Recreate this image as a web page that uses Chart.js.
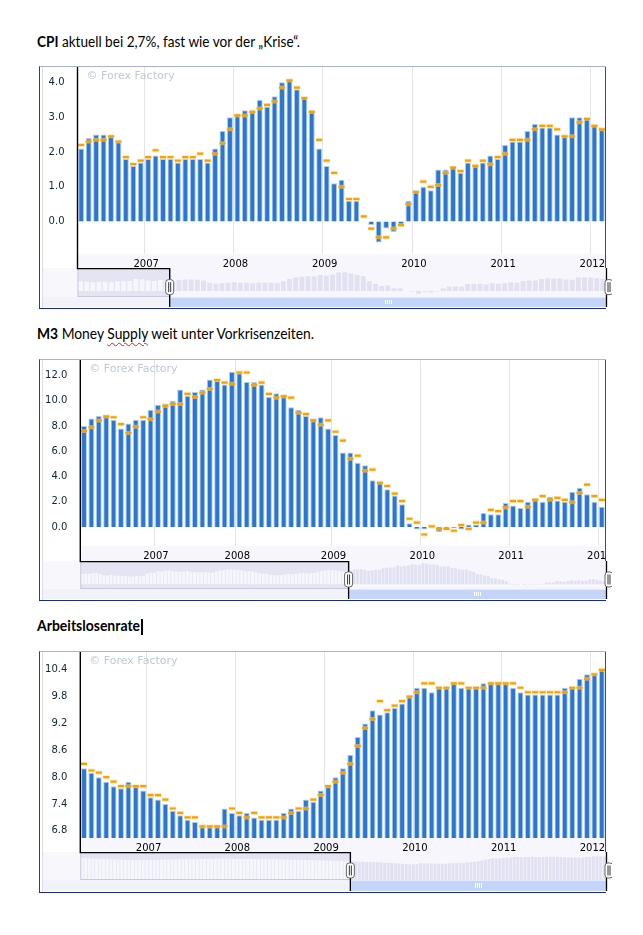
<!DOCTYPE html>
<html>
<head>
<meta charset="utf-8">
<script src="https://cdn.jsdelivr.net/npm/chart.js@4.4.1/dist/chart.umd.min.js"></script>
<style>
html, body { margin: 0; padding: 0; background: #fff; }
body { width: 643px; height: 935px; position: relative; overflow: hidden; }
.h { position: absolute; left: 37px; font-family: Lato, sans-serif; font-size: 14.5px; line-height: 18px; white-space: nowrap; color: #000; transform-origin: 0 0; }
.sp { text-decoration: underline wavy #e02020; text-decoration-thickness: 1px; text-underline-offset: 3px; }
.frame { position: absolute; left: 39px; width: 567px; box-sizing: border-box; border-top: 1px solid #aab2dc; border-left: 1px solid #2b3a96; border-bottom: 1px solid #1b2a8f; pointer-events: none; z-index: 2; }
.frame:before { content: ''; position: absolute; left: 2px; top: 0; bottom: 0; width: 1px; background: #dadcef; }
.cursor { position: absolute; left: 141px; top: 619px; width: 2px; height: 16px; background: #000; }
canvas { position: absolute; }
</style>
</head>
<body>

<div class="h" id="h1" data-w="263" style="top:33px"><b>CPI</b> aktuell bei 2,7%, fast wie vor der „Krise“.</div>
<div class="h" id="h2" data-w="277" style="top:325px"><b>M3</b> Money <span class="sp">Supply</span> weit unter Vorkrisenzeiten.</div>
<div class="h" id="h3" data-w="103" style="top:617px"><b>Arbeitslosenrate</b></div>
<div class="cursor"></div>

<div class="frame" style="top:66px;height:243px"></div>
<div class="frame" style="top:359px;height:242px"></div>
<div class="frame" style="top:651px;height:242px"></div>

<canvas id="cpi" width="566" height="201" style="left:40px;top:67px"></canvas>
<canvas id="cpiNav" width="572" height="39" style="left:40px;top:268px"></canvas>
<canvas id="m3" width="566" height="201" style="left:40px;top:360px"></canvas>
<canvas id="m3Nav" width="572" height="38" style="left:40px;top:561px"></canvas>
<canvas id="ue" width="566" height="200" style="left:40px;top:652px"></canvas>
<canvas id="ueNav" width="572" height="39" style="left:40px;top:852px"></canvas>

<script>
// year labels on the x axis
const yearTicks = ['2007', '2008', '2009', '2010', '2011', '2012'];

// CPI (Verbraucherpreise, % yoy)
const cpiYearStart = [9, 21, 33, 45, 57, 69];
const cpiTicks = [0, 1, 2, 3, 4];
const cpiActual = [
  2.1, 2.4, 2.5, 2.5, 2.45, 2.3, 1.8, 1.6, 1.7,
  1.8, 1.9, 1.8, 1.8, 1.7, 1.8, 1.8, 1.8, 1.7, 2.1, 2.6, 3.0,
  3.1, 3.2, 3.2, 3.5, 3.3, 3.6, 4.0, 4.1, 3.8, 3.55, 3.2, 2.1,
  1.6, 1.1, 1.2, 0.6, 0.6, 0.0, -0.1, -0.6, -0.2, -0.3, -0.1, 0.6,
  0.9, 1.0, 0.9, 1.5, 1.5, 1.6, 1.4, 1.7, 1.6, 1.7, 1.9, 1.8,
  2.2, 2.3, 2.3, 2.6, 2.8, 2.7, 2.7, 2.5, 2.45, 3.0, 3.0, 2.95,
  2.75, 2.65
];
const cpiForecast = [
  2.2, 2.3, 2.35, 2.35, 2.45, 2.3, 1.85, 1.65, 1.75,
  1.85, 2.05, 1.85, 1.85, 1.75, 1.85, 1.85, 1.95, 1.75, 1.95, 2.25, 2.65,
  3.05, 3.05, 3.15, 3.25, 3.35, 3.45, 3.85, 4.05, 3.85, 3.55, 3.15, 2.35,
  1.75, 1.4, 1.0, 0.65, 0.65, 0.15, -0.2, -0.45, -0.45, -0.2, -0.1, 0.5,
  0.85, 1.15, 1.0, 1.05, 1.4, 1.55, 1.45, 1.75, 1.6, 1.75, 1.65, 1.85,
  1.95, 2.35, 2.35, 2.35, 2.65, 2.75, 2.75, 2.65, 2.45, 2.45, 2.85, 2.95,
  2.75, 2.65
];
// older history, only shown in the navigator
const cpiEarly = [2.1, 2.0, 1.9, 2.0, 2.0, 1.9, 2.1, 2.1, 2.2, 2.6, 2.5, 2.3, 2.2, 2.4, 2.3];

// M3 money supply (% yoy)
const m3YearStart = [10, 21, 34, 46, 58, 70];
const m3Ticks = [0, 2, 4, 6, 8, 10, 12];
const m3Actual = [
  8.0, 8.6, 8.8, 8.9, 8.5, 7.8, 8.2, 8.5, 8.5, 9.3,
  9.7, 9.8, 10.0, 10.9, 10.4, 10.7, 10.9, 11.7, 11.6, 11.3, 12.3,
  12.2, 11.5, 11.5, 11.3, 10.3, 10.6, 10.5, 9.5, 9.3, 8.8, 8.6, 8.7, 7.8,
  7.3, 5.9, 5.9, 5.1, 4.9, 3.7, 3.6, 3.0, 2.5, 1.8, 0.3, -0.2,
  -0.2, 0.05, -0.4, -0.15, -0.1, -0.2, 0.2, 0.2, 1.1, 1.0, 1.0, 1.9,
  1.7, 1.5, 2.0, 2.3, 2.0, 2.4, 2.1, 2.0, 2.8, 3.1, 2.6, 2.0,
  1.6
];
const m3Forecast = [
  7.6, 7.9, 8.45, 8.75, 8.7, 8.15, 7.45, 7.95, 8.7, 8.55,
  9.15, 9.6, 9.75, 9.75, 10.55, 10.3, 10.65, 10.95, 11.65, 11.45, 11.35,
  12.25, 12.25, 11.25, 11.45, 10.55, 10.25, 10.35, 10.25, 9.05, 8.95, 8.45, 8.1, 8.45,
  7.55, 6.85, 5.4, 5.65, 4.45, 4.55, 3.5, 3.25, 2.65, 2.05, 0.65, 0.35,
  -0.6, 0.05, -0.15, -0.15, -0.3, 0.15, -0.15, 0.35, 0.35, 1.35, 1.25, 1.55,
  2.05, 2.05, 1.6, 2.15, 2.45, 2.15, 2.3, 2.15, 1.95, 2.7, 3.35, 2.45,
  2.15
];
const m3Early = [
  6.0, 6.1, 6.2, 6.5, 6.6, 6.0, 5.3, 5.2, 5.5, 5.0, 5.0, 5.0, 4.9,
  4.5, 4.6, 4.8, 4.7, 5.0, 6.2, 6.7, 6.8, 7.6, 7.4, 7.9, 8.0,
  7.8, 7.5, 7.3, 7.4, 7.7, 7.2, 7.1, 7.1, 7.1, 7.0, 6.9, 6.8,
  7.5, 8.1, 8.0, 8.7, 8.6, 8.5, 8.5, 8.2, 7.4, 7.7, 7.4, 7.1,
  6.4, 6.2, 6.2, 5.4, 5.3, 5.4, 5.4, 5.9, 6.0, 5.9, 6.1, 6.4,
  6.8, 6.4, 6.5, 6.6, 7.3, 7.6, 8.0, 8.3, 8.4, 8.0, 7.6, 7.3,
  7.6
];

// Arbeitslosenrate (%)
const ueYearStart = [9, 21, 33, 45, 57, 69];
const ueTicks = [6.8, 7.4, 8.0, 8.6, 9.2, 9.8, 10.4];
const ueActual = [
  8.2, 8.1, 8.0, 7.9, 7.8, 7.75, 7.9, 7.8, 7.7,
  7.55, 7.5, 7.4, 7.25, 7.15, 7.05, 7.0, 6.9, 6.9, 6.9, 7.3, 7.2,
  7.15, 7.2, 7.1, 7.05, 7.05, 7.05, 7.2, 7.3, 7.25, 7.5, 7.45, 7.7,
  7.8, 8.0, 8.2, 8.5, 8.9, 9.2, 9.5, 9.4, 9.45, 9.55, 9.65, 9.8,
  10.0, 10.0, 9.9, 10.0, 10.0, 10.1, 10.0, 10.0, 10.0, 10.1, 10.1, 10.1,
  10.1, 10.0, 9.9, 9.85, 9.85, 9.85, 9.85, 9.85, 10.0, 10.0, 10.2, 10.3,
  10.3, 10.4
];
const ueForecast = [
  8.3, 8.15, 8.1, 8.0, 7.9, 7.8, 7.8, 7.8, 7.8,
  7.6, 7.6, 7.5, 7.3, 7.2, 7.1, 7.1, 6.9, 6.9, 6.9, 6.9, 7.3,
  7.2, 7.1, 7.2, 7.1, 7.1, 7.1, 7.1, 7.2, 7.3, 7.3, 7.5, 7.6,
  7.8, 7.9, 8.1, 8.3, 8.7, 9.1, 9.3, 9.7, 9.5, 9.6, 9.7, 9.8,
  9.9, 10.1, 10.1, 10.0, 10.0, 10.1, 10.1, 10.0, 10.0, 10.0, 10.1, 10.1,
  10.1, 10.1, 10.0, 9.9, 9.9, 9.9, 9.9, 9.9, 9.9, 10.0, 10.0, 10.2,
  10.3, 10.4
];
const ueEarly = [
  9.6, 9.5, 9.5, 9.4, 9.3, 9.2, 9.2, 9.1, 9.0, 9.0, 8.9, 8.9,
  8.8, 8.8, 8.7, 8.7, 8.7, 8.6, 8.6, 8.7, 8.7, 8.8, 8.8, 8.9,
  8.9, 8.9, 9.0, 9.0, 9.0, 9.1, 9.1, 9.1, 9.2, 9.2, 9.2, 9.2,
  9.2, 9.3, 9.3, 9.3, 9.3, 9.3, 9.2, 9.2, 9.2, 9.2, 9.2, 9.2,
  9.1, 9.1, 9.1, 9.0, 9.0, 9.0, 9.0, 8.9, 8.9, 8.9, 8.8, 8.8,
  8.8, 8.8, 8.7, 8.7, 8.7, 8.6, 8.6, 8.6, 8.5, 8.5, 8.4, 8.4,
  8.4, 8.3, 8.3
];

Chart.defaults.font.family = '"DejaVu Sans", Verdana, sans-serif';
Chart.defaults.font.size = 10;

// fit the headings to the width they have in the scanned document
document.querySelectorAll('.h').forEach(el => {
  const w = el.getBoundingClientRect().width;
  el.style.transform = 'scaleX(' + (el.dataset.w / w) + ')';
});

const mainDeco = {
  id: 'mainDeco',
  beforeDraw(chart) {
    const { ctx, chartArea: a } = chart;
    ctx.save();
    ctx.fillStyle = '#f6f6fc';
    ctx.fillRect(a.left, a.bottom, a.right - a.left, chart.height - a.bottom);
    ctx.restore();
  },
  beforeDatasetsDraw(chart) {
    const { ctx, chartArea: a } = chart;
    ctx.save();
    ctx.font = '11px "DejaVu Sans"';
    ctx.fillStyle = '#bec8dc';
    ctx.textBaseline = 'middle';
    ctx.fillText('\u00a9 Forex Factory', a.left + 9, a.top + 9);
    ctx.restore();
  },
  afterDraw(chart) {
    const { ctx, chartArea: a } = chart;
    ctx.save();
    ctx.strokeStyle = '#000';
    ctx.lineWidth = 1.4;
    ctx.beginPath();
    ctx.moveTo(a.left, a.top);
    ctx.lineTo(a.left, chart.height);
    ctx.moveTo(a.right + 0.5, 0);
    ctx.lineTo(a.right + 0.5, chart.height);
    ctx.stroke();
    ctx.restore();
  }
};

function handle(ctx, x, cy) {
  ctx.fillStyle = '#fff';
  ctx.strokeStyle = '#666';
  ctx.lineWidth = 1;
  ctx.beginPath();
  ctx.roundRect(x - 4, cy - 7.5, 8, 15, 3);
  ctx.fill();
  ctx.stroke();
  ctx.strokeStyle = '#333';
  ctx.beginPath();
  ctx.moveTo(x - 1, cy - 5); ctx.lineTo(x - 1, cy + 5);
  ctx.moveTo(x + 1, cy - 5); ctx.lineTo(x + 1, cy + 5);
  ctx.stroke();
}

const navDeco = {
  id: 'navDeco',
  beforeDatasetsDraw(chart, args, opts) {
    const { ctx, chartArea: a } = chart;
    const slot = (a.right - a.left) / chart.data.labels.length;
    const mx = a.left + opts.early * slot;
    ctx.save();
    ctx.fillStyle = '#f7f7fc';
    ctx.fillRect(2, a.top, a.left - 2, a.bottom - a.top);
    ctx.fillStyle = '#f6f6fc';
    ctx.fillRect(a.left, a.top, a.right - a.left, a.bottom - a.top);
    ctx.fillStyle = '#e4e4f2';
    ctx.fillRect(a.left, a.top, mx - a.left, a.bottom - a.top);
    ctx.restore();
  },
  afterDatasetsDraw(chart, args, opts) {
    const { ctx, chartArea: a } = chart;
    const slot = (a.right - a.left) / chart.data.labels.length;
    const mx = a.left + opts.early * slot;
    const h = chart.height;
    ctx.save();
    // mask edges
    ctx.strokeStyle = '#c9c9de';
    ctx.lineWidth = 1;
    ctx.strokeRect(a.left + 0.5, a.top, mx - a.left, a.bottom - a.top - 0.5);
    // scrollbar
    ctx.fillStyle = '#f2f2f9';
    ctx.fillRect(2, a.bottom, mx - 2, h - a.bottom);
    ctx.fillStyle = '#c5d5f9';
    ctx.fillRect(mx, a.bottom + 0.5, a.right - mx, h - a.bottom - 0.5);
    const cx = (mx + a.right) / 2;
    ctx.strokeStyle = '#ffffff';
    ctx.beginPath();
    for (let i = -3; i <= 3; i += 2) {
      ctx.moveTo(Math.round(cx + i) + 0.5, a.bottom + 3);
      ctx.lineTo(Math.round(cx + i) + 0.5, h - 3);
    }
    ctx.stroke();
    // black outline of the hidden range
    ctx.strokeStyle = '#000';
    ctx.lineWidth = 1.3;
    ctx.beginPath();
    ctx.moveTo(a.left - 0.7, a.top + 0.5);
    ctx.lineTo(mx, a.top + 0.5);
    ctx.moveTo(mx, a.top);
    ctx.lineTo(mx, h);
    ctx.moveTo(a.right + 0.5, 0);
    ctx.lineTo(a.right + 0.5, h);
    ctx.stroke();
    const cy = a.top + (a.bottom - a.top) * 0.66;
    handle(ctx, mx, cy);
    handle(ctx, a.right + 3, cy);
    ctx.restore();
  }
};

function drawPanel(p) {
  const labels = p.actual.map((v, i) => {
    const j = p.yearStart.indexOf(i);
    return j >= 0 ? yearTicks[j] : '';
  });
  const bars = {
    data: p.actual,
    backgroundColor: '#2b77ce',
    borderColor: 'rgba(172,200,240,0.95)',
    borderWidth: 1,
    barPercentage: 0.8,
    categoryPercentage: 1,
    clip: 0,
    order: 2
  };
  if (p.base !== undefined) bars.base = p.base;

  new Chart(document.getElementById(p.id), {
    type: 'bar',
    data: {
      labels: labels,
      datasets: [{
        // forecast dash
        type: 'line',
        data: p.forecast,
        showLine: false,
        pointStyle: 'line',
        pointRadius: 3,
        pointBorderWidth: 2.2,
        pointBorderColor: '#f4a300',
        order: 0
      }, {
        // pale halo round the dash
        type: 'line',
        data: p.forecast,
        showLine: false,
        pointStyle: 'line',
        pointRadius: 3.5,
        pointBorderWidth: 4,
        pointBorderColor: 'rgba(255,212,130,0.55)',
        order: 1
      }, bars]
    },
    options: {
      responsive: false,
      animation: false,
      layout: { autoPadding: false, padding: { top: 0, right: 0.5, bottom: 0, left: 0 } },
      plugins: { legend: { display: false }, tooltip: { enabled: false } },
      scales: {
        x: {
          grid: {
            offset: true,
            drawTicks: false,
            lineWidth: 1,
            color: c => (c.tick && c.tick.label) ? '#e4e4ea' : 'rgba(0,0,0,0)'
          },
          border: { display: false },
          ticks: { autoSkip: false, maxRotation: 0, padding: 4, labelOffset: -2, color: '#000' },
          afterFit: s => { s.height = p.axisH; s.paddingLeft = 0; s.paddingRight = 0; }
        },
        y: {
          min: p.min,
          max: p.max,
          grid: { display: false },
          border: { display: false },
          ticks: { padding: 5, color: '#0e2538', callback: v => v.toFixed(1) },
          afterBuildTicks: s => { s.ticks = p.ticks.map(v => ({ value: v })); },
          afterFit: s => { s.width = p.yW; s.paddingTop = 0; s.paddingBottom = 0; }
        }
      }
    },
    plugins: [mainDeco]
  });

  const all = p.early.concat(p.actual);
  const n0 = p.early.length;
  new Chart(document.getElementById(p.id + 'Nav'), {
    type: 'bar',
    data: {
      labels: all.map((v, i) => i),
      datasets: [{
        data: all,
        backgroundColor: c => c.dataIndex < n0 ? '#f6f6fd' : '#e1e1f2',
        borderWidth: 0,
        barPercentage: 0.8,
        categoryPercentage: 1
      }]
    },
    options: {
      responsive: false,
      animation: false,
      layout: { autoPadding: false, padding: { left: p.yW, right: 6, top: 0, bottom: p.navPadB } },
      plugins: { legend: { display: false }, tooltip: { enabled: false }, navDeco: { early: n0 } },
      scales: {
        x: { display: false },
        y: { display: false, min: p.navMin, max: p.navMax }
      }
    },
    plugins: [navDeco]
  });
}

drawPanel({ id: 'cpi', actual: cpiActual, forecast: cpiForecast, early: cpiEarly, yearStart: cpiYearStart, ticks: cpiTicks,
  min: -0.93, max: 4.44, yW: 37.5, axisH: 14, navMin: -1.3, navMax: 5.0, navPadB: 10 });
drawPanel({ id: 'm3', actual: m3Actual, forecast: m3Forecast, early: m3Early, yearStart: m3YearStart, ticks: m3Ticks,
  min: -1.51, max: 13.24, yW: 40.3, axisH: 15, navMin: -2.75, navMax: 13.6, navPadB: 10 });
drawPanel({ id: 'ue', actual: ueActual, forecast: ueForecast, early: ueEarly, yearStart: ueYearStart, ticks: ueTicks,
  min: 6.64, max: 10.8, base: 6.64, yW: 40.3, axisH: 14, navMin: 0, navMax: 12.2, navPadB: 11 });
</script>
</body>
</html>
